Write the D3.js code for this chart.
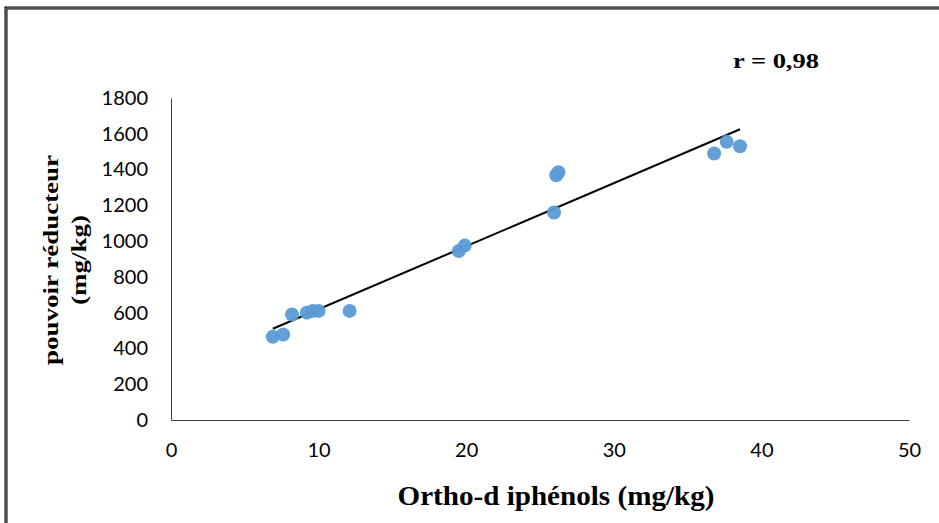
<!DOCTYPE html>
<html>
<head>
<meta charset="utf-8">
<script src="https://cdn.jsdelivr.net/npm/d3@7"></script>
<style>
  body { margin: 0; background: #fff; }
  svg { display: block; }
</style>
</head>
<body>
<div id="chart-area"></div>
<script>
const width = 939, height = 523;
const margin = ({top: 98, right: 30, bottom: 103, left: 171});

// Ortho-diphenols (mg/kg) vs pouvoir reducteur (mg/kg)
const orthoDiphenols = [6.9, 7.6, 8.2, 9.2, 9.6, 10.0, 12.1, 19.5, 19.9, 25.95, 26.1, 26.25, 36.8, 37.65, 38.55];
const pouvoirReducteur = [465, 478, 590, 600, 610, 610, 610, 945, 975, 1160, 1368, 1385, 1490, 1555, 1530];

const xTicks = [0, 10, 20, 30, 40, 50];
const yTicks = [0, 200, 400, 600, 800, 1000, 1200, 1400, 1600, 1800];
const rLabel = "r = 0,98";

const points = orthoDiphenols.map((x, i) => ({x: x, y: pouvoirReducteur[i]}));

// least-squares trend line
const mx = d3.mean(orthoDiphenols), my = d3.mean(pouvoirReducteur);
const slope = d3.sum(points, d => (d.x - mx) * (d.y - my)) / d3.sum(points, d => (d.x - mx) ** 2);
const intercept = my - slope * mx;
const xExt = d3.extent(orthoDiphenols);
const trend = xExt.map(x => ({x: x, y: intercept + slope * x}));

const x = d3.scaleLinear()
    .domain([0, 50])
    .range([margin.left, width - margin.right]);

const y = d3.scaleLinear()
    .domain([0, 1800])
    .range([height - margin.bottom, margin.top]);

const svg = d3.select("#chart-area").append("svg")
    .attr("width", width)
    .attr("height", height);

// outer frame (double line look)
svg.append("path")
    .attr("d", `M6,${height + 5}V8H${width + 5}`)
    .attr("fill", "none")
    .attr("stroke", "#000")
    .attr("stroke-width", 3);
svg.append("path")
    .attr("d", `M6,${height + 5}V8H${width + 5}`)
    .attr("fill", "none")
    .attr("stroke", "#9a9a9a")
    .attr("stroke-width", 1);

const tickFont = "Lato, 'Open Sans', sans-serif";

svg.append("g")
    .attr("transform", `translate(0,${y(0)})`)
    .call(d3.axisBottom(x).tickValues(xTicks).tickFormat(d3.format("d")).tickSize(0).tickPadding(23))
    .call(g => g.select(".domain").attr("stroke", "#404040"))
    .call(g => g.selectAll("text").attr("font-family", tickFont).attr("font-size", 20).attr("fill", "#000"));

svg.append("g")
    .attr("transform", `translate(${x(0)},0)`)
    .call(d3.axisLeft(y).tickValues(yTicks).tickFormat(d3.format("d")).tickSize(0).tickPadding(23))
    .call(g => g.select(".domain").attr("stroke", "#404040"))
    .call(g => g.selectAll("text").attr("font-family", tickFont).attr("font-size", 20).attr("fill", "#000"));

// trend line
svg.append("path")
    .datum(trend)
    .attr("fill", "none")
    .attr("stroke", "#000")
    .attr("stroke-width", 2)
    .attr("d", d3.line().x(d => x(d.x)).y(d => y(d.y)));

// points
svg.append("g")
    .selectAll("circle")
    .data(points)
    .join("circle")
    .attr("cx", d => x(d.x))
    .attr("cy", d => y(d.y))
    .attr("r", 7)
    .attr("fill", "#5b9bd5")
    .attr("fill-opacity", 0.95);

const titleFont = "'Liberation Serif', 'DejaVu Serif', serif";

svg.append("text")
    .attr("x", 556)
    .attr("y", 505)
    .attr("text-anchor", "middle")
    .attr("font-family", titleFont)
    .attr("font-weight", "bold")
    .attr("font-size", 28)
    .attr("textLength", 317)
    .attr("lengthAdjust", "spacingAndGlyphs")
    .text("Ortho-d iphénols (mg/kg)");

const yTitle = svg.append("text")
    .attr("transform", "translate(0,260) scale(0.75,1) rotate(-90)")
    .attr("text-anchor", "middle")
    .attr("font-family", titleFont)
    .attr("font-weight", "bold")
    .attr("font-size", 27);
yTitle.append("tspan").attr("x", 0).attr("y", 77).text("pouvoir réducteur");
yTitle.append("tspan").attr("x", 0).attr("y", 115).text("(mg/kg)");

svg.append("text")
    .attr("transform", "translate(776,68) scale(1,0.8)")
    .attr("text-anchor", "middle")
    .attr("font-family", titleFont)
    .attr("font-weight", "bold")
    .attr("font-size", 26.5)
    .text(rLabel);
</script>
</body>
</html>
